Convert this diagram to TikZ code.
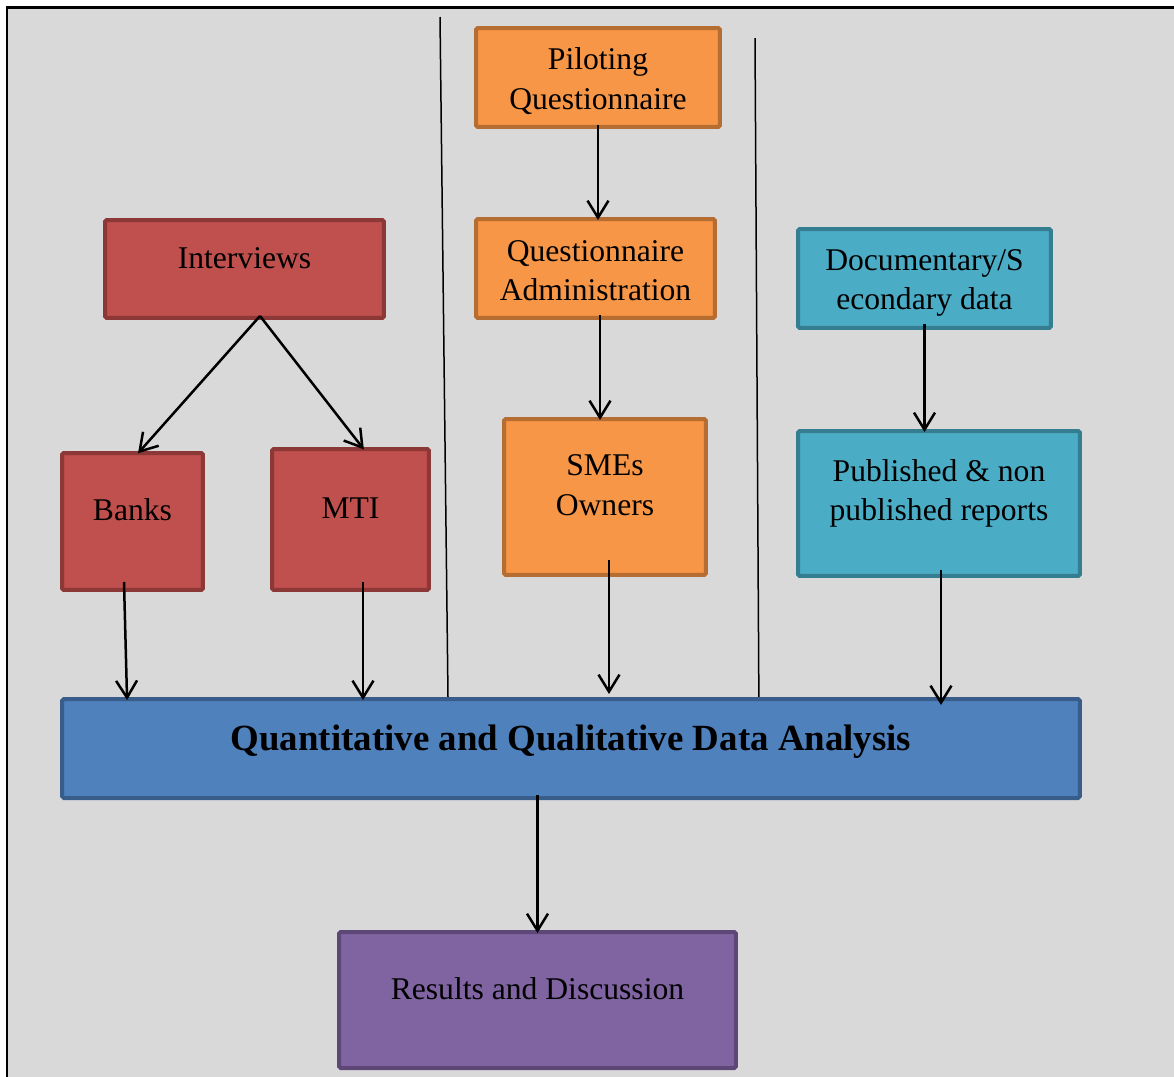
\documentclass[tikz,border=0pt]{standalone}
\usepackage{fontspec}
\setmainfont{Liberation Serif}
\usetikzlibrary{arrows.meta}

\definecolor{bggray}{HTML}{D9D9D9}
\definecolor{redfill}{HTML}{C0504D}
\definecolor{redline}{HTML}{8C3836}
\definecolor{orangefill}{HTML}{F79646}
\definecolor{orangeline}{HTML}{B66D31}
\definecolor{tealfill}{HTML}{4BACC6}
\definecolor{tealline}{HTML}{357D91}
\definecolor{bluefill}{HTML}{4F81BD}
\definecolor{blueline}{HTML}{385D8A}
\definecolor{purplefill}{HTML}{8064A2}
\definecolor{purpleline}{HTML}{5C4776}

\begin{document}
\begin{tikzpicture}[
    x=0.02cm,
    y=-0.02cm,
    txt/.style={font=\fontsize{18}{22.5}\selectfont, align=center, inner sep=0pt},
    box/.style={draw, line width=0.08cm, rounded corners=1pt, inner sep=0pt},
    redbox/.style={box, fill=redfill, draw=redline},
    orangebox/.style={box, fill=orangefill, draw=orangeline},
    tealbox/.style={box, fill=tealfill, draw=tealline},
    bluebox/.style={box, fill=bluefill, draw=blueline},
    purplebox/.style={box, fill=purplefill, draw=purpleline},
    arr/.style={line width=0.05cm, shorten >=-0.06cm,
        -{Straight Barb[length=0.34cm,width=0.42cm]}}
]
\useasboundingbox (0,0) rectangle (1174,1076);
\draw[line width=0.06cm, fill=bggray] (7,7) rectangle (1200,1100);

\draw[line width=0.03cm] (440,17) -- (448,697);
\draw[line width=0.03cm] (755,38) -- (759,718);

\node[redbox, minimum width=5.58cm, minimum height=1.96cm,
    label={[txt,yshift=0.22cm]center:Interviews}] (interviews) at (244.5,269) {};
\node[redbox, minimum width=2.82cm, minimum height=2.74cm,
    label={[txt,yshift=0.23cm]center:Banks}] (banks) at (132.5,521.5) {};
\node[redbox, minimum width=3.14cm, minimum height=2.82cm,
    label={[txt,yshift=0.23cm]center:MTI}] (mti) at (350.5,519.5) {};

\node[orangebox, minimum width=4.88cm, minimum height=1.98cm,
    label={[txt,yshift=-0.07cm]center:Piloting\\Questionnaire}] (pilot) at (598,77.5) {};
\node[orangebox, minimum width=4.78cm, minimum height=1.98cm,
    label={[txt,yshift=-0.04cm]center:Questionnaire\\Administration}] (admin) at (595.5,268.5) {};
\node[orangebox, minimum width=4.04cm, minimum height=3.12cm,
    label={[txt,yshift=0.24cm]center:SMEs\\Owners}] (smes) at (605,497) {};

\node[tealbox, minimum width=5.06cm, minimum height=1.98cm,
    label={[txt,yshift=-0.09cm]center:Documentary/S\\econdary data}] (docs) at (924.5,278.5) {};
\node[tealbox, minimum width=5.64cm, minimum height=2.90cm,
    label={[txt,yshift=0.2cm]center:Published \& non\\published reports}] (pub) at (939,503.5) {};

\node[bluebox, minimum width=20.36cm, minimum height=1.98cm,
    label={[txt,font=\fontsize{21}{25}\selectfont\bfseries,yshift=0.13cm]center:Quantitative and Qualitative Data Analysis}]
    (analysis) at (571,748.5) {};

\node[purplebox, minimum width=7.94cm, minimum height=2.72cm,
    label={[txt,yshift=0.22cm]center:Results and Discussion}] (results) at (537.5,1000) {};

\coordinate (split) at ([xshift=0.31cm,yshift=0.08cm]interviews.south);

\draw[arr] ([yshift=0.08cm]pilot.south) -- (pilot.south |- admin.north);
\draw[arr] ([xshift=0.09cm,yshift=0.1cm]admin.south) -- ([xshift=0.09cm]admin.south |- smes.north);
\draw[arr] (split) -- ([xshift=0.15cm]banks.north);
\draw[arr] (split) -- ([xshift=0.23cm]mti.north);
\draw[arr] ([xshift=-0.17cm,yshift=0.2cm]banks.south) -- ([xshift=-0.11cm]banks.south |- analysis.north);
\draw[arr] ([xshift=0.25cm,yshift=0.2cm]mti.south) -- ([xshift=0.25cm]mti.south |- analysis.north);
\draw[arr, shorten >=0.06cm] ([xshift=0.08cm,yshift=0.34cm]smes.south) -- ([xshift=0.08cm]smes.south |- analysis.north);
\draw[arr] ([yshift=0.12cm]docs.south) -- (docs.south |- pub.north);
\draw[arr, shorten >=-0.16cm] ([xshift=0.04cm,yshift=0.16cm]pub.south) -- ([xshift=0.04cm]pub.south |- analysis.north);
\draw[arr] ([yshift=0.1cm]analysis.south -| results.north) -- (results.north);

\end{tikzpicture}
\end{document}
